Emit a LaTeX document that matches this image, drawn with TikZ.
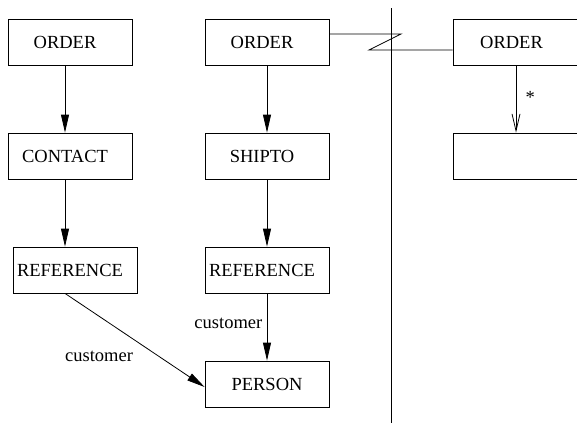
\documentclass[tikz,border=0pt]{standalone}
\usepackage{fontspec}
\setmainfont{Liberation Serif}
\usetikzlibrary{arrows.meta}
\begin{document}
\begin{tikzpicture}[x=1pt,y=-1pt,
  every node/.style={font=\fontsize{18.5}{22}\selectfont},
  entity/.style={draw,line width=0.8pt,rectangle,minimum width=124pt,minimum height=46pt,inner sep=0pt},
  offtext/.style={execute at end node={\hspace*{10pt}}},
  link/.style={line width=0.8pt,-{Triangle[length=18pt,width=8pt]}},
  many/.style={line width=0.8pt,-{Straight Barb[length=17pt,width=8pt,line width=0.8pt]}},
  plain/.style={line width=0.8pt}]
\useasboundingbox (0,0) rectangle (577,423);
\clip (0,0) rectangle (577,423);

% left column
\node[entity,offtext] (ordA) at (70,42) {ORDER};
\node[entity,offtext] (contact) at (70,156) {CONTACT};
\node[entity,offtext] (refA) at (75,270) {REFERENCE};

% middle column
\node[entity,offtext] (ordB) at (267,42) {ORDER};
\node[entity,offtext] (shipto) at (267,156) {SHIPTO};
\node[entity,offtext] (refB) at (267,270) {REFERENCE};
\node[entity] (person) at (267,384) {PERSON};

% right column
\node[entity,minimum width=127pt,offtext] (ordC) at (516.5,42) {ORDER};
\node[entity,minimum width=127pt] (blank) at (516.5,156) {};

% separator
\coordinate (sepTop) at (391,8);
\coordinate (sepBot) at (391,423);
\draw[plain] (sepTop) -- (sepBot);

% connectors
\draw[link] ([xshift=-5pt]ordA.south) -- ([xshift=-5pt]contact.north);
\draw[link] ([xshift=-5pt]contact.south) -- ([xshift=-10pt]refA.north);
\draw[link] ([xshift=-10pt]refA.south) -- ([yshift=-3pt]person.west);
\node (custA) at (99,356) {customer};
\draw[link] (refB.south) -- node[left=1pt,pos=0.45] (custB) {customer} (person.north);
\draw[link] (ordB.south) -- (shipto.north);
\draw[link] (shipto.south) -- (refB.north);
\draw[many] ([xshift=-0.5pt]ordC.south) -- node[right=6pt,pos=0.48] (star) {*} ([xshift=-0.5pt]blank.north);

% broken link across the separator
\draw[plain] ([yshift=8pt]ordB.east) -- (401,34) -- (369,50) -- ([yshift=-8pt]ordC.west);
\end{tikzpicture}
\end{document}
